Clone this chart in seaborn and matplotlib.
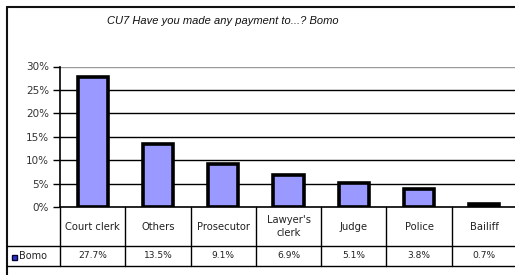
import matplotlib
matplotlib.use("Agg")
import matplotlib.pyplot as plt
import matplotlib.transforms as mtransforms
from matplotlib.ticker import PercentFormatter, MultipleLocator
import seaborn as sns

categories = ["Court clerk", "Others", "Prosecutor", "Lawyer's\nclerk", "Judge", "Police", "Bailiff"]
values = [27.7, 13.5, 9.1, 6.9, 5.1, 3.8, 0.7]
value_labels = ["27.7%", "13.5%", "9.1%", "6.9%", "5.1%", "3.8%", "0.7%"]
series_name = "Bomo"
title = "CU7 Have you made any payment to...? Bomo"

W, H = 515, 275
sns.set_style("white")
plt.rcParams["font.family"] = ["DejaVu Sans"]

fig = plt.figure(figsize=(W / 100, H / 100), dpi=100)


def fx(x):
    return x / W


def fy(y):
    return 1 - y / H


# plot area (pixel edges)
left, right, top, bottom = 60, 517, 66.5, 207
ax = fig.add_axes([fx(left), fy(bottom), fx(right - left), (bottom - top) / H])

sns.barplot(x=list(range(len(categories))), y=values, color="#9999ff",
            edgecolor="black", linewidth=2.6, width=0.46, saturation=1, ax=ax)
ax.set_xlim(-0.5, len(categories) - 0.5)
ax.set_ylim(0, 30)
ax.yaxis.set_major_locator(MultipleLocator(5))
ax.yaxis.set_major_formatter(PercentFormatter(decimals=0))
ax.set_xticks([])
for y in range(5, 30, 5):
    ax.axhline(y, color="black", lw=1, zorder=0)
ax.axhline(30, color="#999999", lw=1, zorder=0)
for s in ["top", "right"]:
    ax.spines[s].set_visible(False)
for s in ["left", "bottom"]:
    ax.spines[s].set_color("black")
    ax.spines[s].set_linewidth(1.2)
ax.tick_params(axis="y", direction="out", length=5, width=1, color="black",
               labelsize=7.5, labelcolor="#333333", pad=3, left=True)

# outer frame
fig.add_artist(plt.Line2D([fx(7), fx(7)], [fy(7), fy(275)], color="#111111", lw=1.5, transform=fig.transFigure))
fig.add_artist(plt.Line2D([fx(7), fx(515)], [fy(7), fy(7)], color="#111111", lw=1.5, transform=fig.transFigure))

fig.text(fx(223), fy(21), title, ha="center", va="center", fontsize=8, style="italic",
         family="Liberation Sans", color="#111111")

# data table under the plot
bt = mtransforms.blended_transform_factory(ax.transData, fig.transFigure)
row1, row2 = 246, 266
for i in range(len(categories) + 1):
    fig.add_artist(plt.Line2D([i - 0.5, i - 0.5], [fy(bottom), fy(row2)], color="black", lw=1, transform=bt))
for y in (row1, row2):
    fig.add_artist(plt.Line2D([fx(7), fx(517)], [fy(y), fy(y)], color="black", lw=1, transform=fig.transFigure))
for i, (c, v) in enumerate(zip(categories, value_labels)):
    fig.text(i, fy((bottom + row1) / 2), c, transform=bt, ha="center", va="center",
             fontsize=7.2, linespacing=1.3, color="#222222")
    fig.text(i, fy((row1 + row2) / 2), v, transform=bt, ha="center", va="center",
             fontsize=6.6, color="#222222")

fig.add_artist(plt.Rectangle((fx(11.5), fy(259.5)), fx(5), 5 / H, facecolor="#3333cc",
                             edgecolor="#000033", lw=1, transform=fig.transFigure))
fig.text(fx(19), fy((row1 + row2) / 2), series_name, ha="left", va="center", fontsize=7,
         color="#222222")

fig.savefig("out.png", dpi=100)
